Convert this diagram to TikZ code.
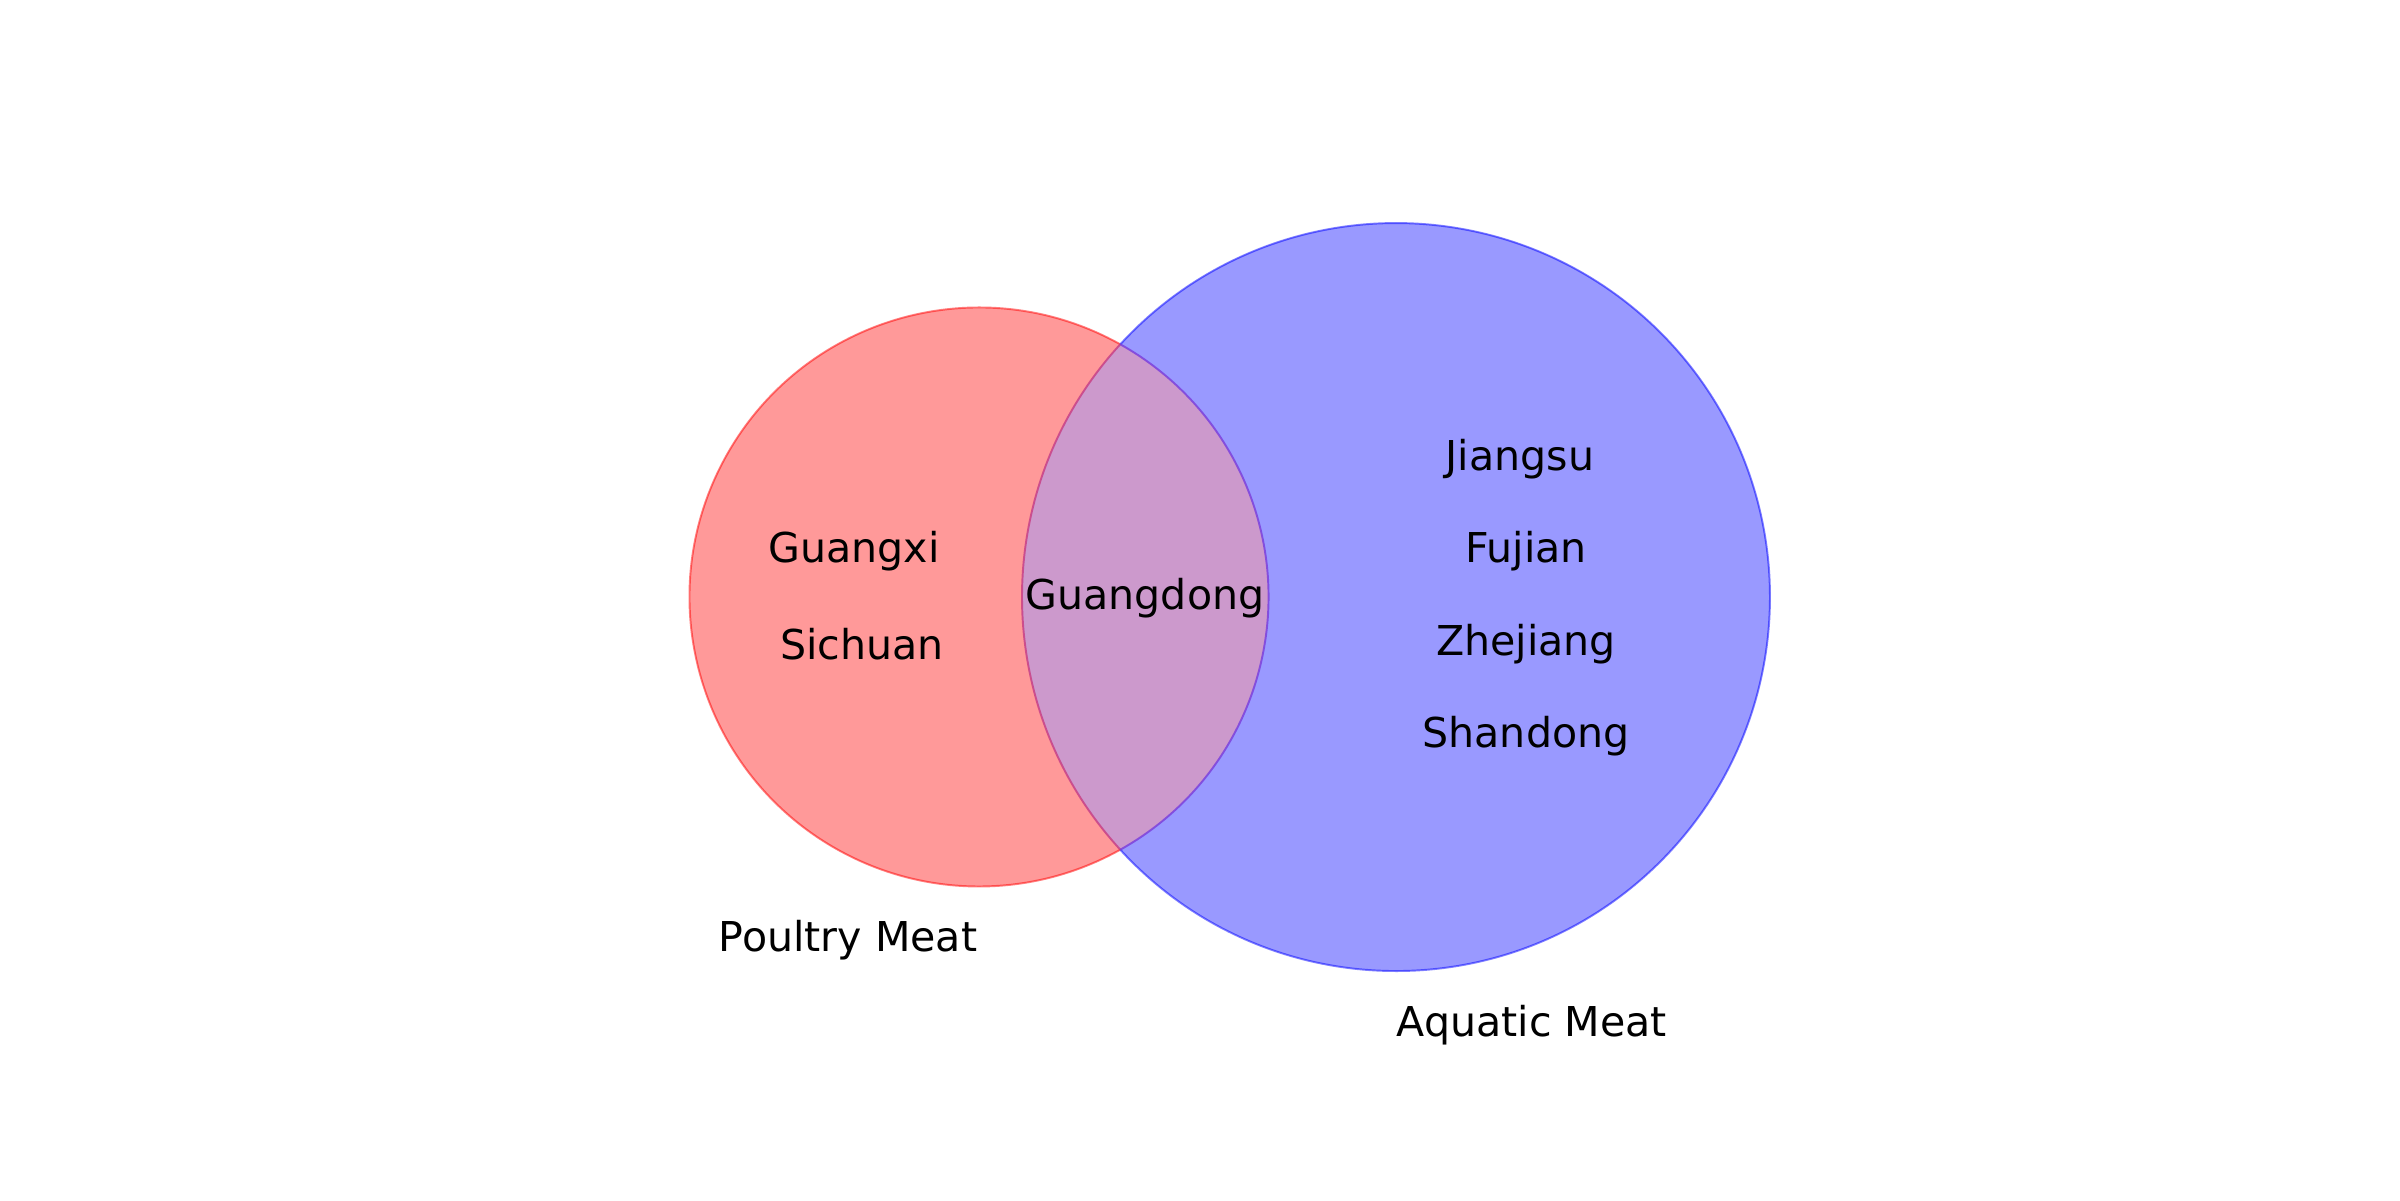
\documentclass[tikz,border=0pt]{standalone}
\usepackage{fontspec}
\setmainfont{DejaVu Sans}
\usetikzlibrary{calc}
\definecolor{poultryfill}{RGB}{255,153,153}
\definecolor{aquaticfill}{RGB}{153,153,255}
\definecolor{bothfill}{RGB}{204,153,204}
\definecolor{leftarc}{RGB}{200,60,130}
\definecolor{rightarc}{RGB}{120,60,220}
\begin{document}
\begin{tikzpicture}[lbl/.style={inner sep=0pt,font=\fontsize{11.7}{14}\selectfont},
    edge/.style={line width=0.55pt}]
    \useasboundingbox (0,0) rectangle (24,12);
    \coordinate (pc) at (9.79,6.03);
    \coordinate (ac) at (13.96,6.03);
    \coordinate (top) at ($(pc)+(60.8:2.895)$);
    \coordinate (bot) at ($(pc)+(-60.8:2.895)$);
    \fill[poultryfill] (pc) circle (2.895);
    \fill[aquaticfill] (ac) circle (3.74);
    \begin{scope}
    \clip (pc) circle (2.895);
    \fill[bothfill] (ac) circle (3.74);
    \end{scope}
    % outlines of the three regions
    \draw[edge,red,opacity=0.5] (top) arc[start angle=60.8,end angle=299.2,radius=2.895];
    \draw[edge,blue,opacity=0.5] (bot) arc[start angle=-137.5,end angle=137.5,radius=3.74];
    \draw[edge,leftarc,opacity=0.8] (top) arc[start angle=137.5,end angle=222.5,radius=3.74];
    \draw[edge,rightarc,opacity=0.8] (bot) arc[start angle=-60.8,end angle=60.8,radius=2.895];
    \node[lbl] (guangxi) at (8.54,6.49) {Guangxi};
    \node[lbl] (sichuan) at (8.62,5.56) {Sichuan};
    \node[lbl] (guangdong) at (11.45,6.02) {Guangdong};
    \node[lbl] (jiangsu) at (15.20,7.41) {Jiangsu};
    \node[lbl] (fujian) at (15.26,6.49) {Fujian};
    \node[lbl] (zhejiang) at (15.26,5.56) {Zhejiang};
    \node[lbl] (shandong) at (15.26,4.64) {Shandong};
    \node[lbl] (poultry) at (8.48,2.60) {Poultry Meat};
    \node[lbl] (aquatic) at (15.32,1.75) {Aquatic Meat};
\end{tikzpicture}
\end{document}
